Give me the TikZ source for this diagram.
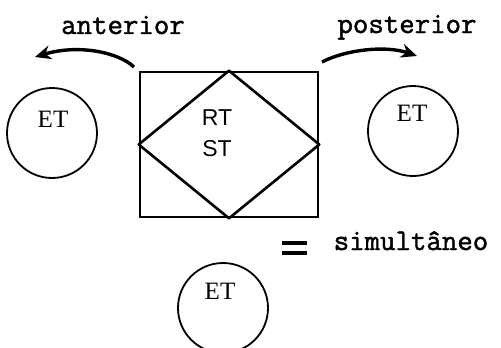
\documentclass[tikz,border=0pt]{standalone}
\usepackage{fontspec}
\setmainfont{Liberation Serif}
\newfontfamily\twfont[FakeBold=1.5]{Latin Modern Mono}
\newfontfamily\sansfont{Liberation Sans}
\usetikzlibrary{arrows.meta}
\begin{document}
\begin{tikzpicture}[x=1pt,y=-1pt,
  word/.style={font=\twfont\fontsize{30}{34}\selectfont, inner sep=0pt, anchor=base},
  ring/.style={circle, draw, line width=1.8pt, minimum size=90pt, inner sep=0pt},
  etlabel/.style={font=\fontsize{25}{28}\selectfont, inner sep=0pt, anchor=base},
  frame/.style={draw, line width=2.6pt, minimum width=178pt, minimum height=145pt, inner sep=0pt},
  inner/.style={font=\sansfont\fontsize{23}{31}\selectfont, inner sep=0pt, align=center},
  bendarrow/.style={line width=3.4pt, -{Stealth[length=16pt,width=14pt]}},
  eqbar/.style={line width=3.4pt},
]
\useasboundingbox (0,0) rectangle (501,348);
\fill[white] (0,0) rectangle (501,348);
% texts
\node[word] (ant) at (123,34) {anterior};
\node[word] (post) at (407,33) {posterior};
\node[word] (sim) at (411,250) {simultâneo};
% central box and diamond
\node[frame] (box) at (229,144.5) {};
\draw[line width=2.6pt, line join=round] (box.north) -- (box.east) -- (box.south) -- (box.west) -- cycle;
\node[inner] (rtst) at (217,133) {RT\\ST};
% circles
\node[ring] (cl) at (52,133) {};
\node[etlabel] (etl) at (53,127) {ET};
\node[ring] (cr) at (413,131) {};
\node[etlabel] (etr) at (412,121) {ET};
\node[ring] (cb) at (223,308) {};
\node[etlabel] (etb) at (220,299) {ET};
% arrows
\coordinate (la) at (134,67);
\coordinate (lb) at (35,57);
\coordinate (ra) at (322,62);
\coordinate (rb) at (417,56);
\draw[bendarrow] (la) .. controls (118,52) and (78,44) .. (lb);
\draw[bendarrow] (ra) .. controls (345,50) and (385,45) .. (rb);
% equals sign
\coordinate (e1) at (282,243);
\coordinate (e2) at (307,243);
\coordinate (e3) at (282,253);
\coordinate (e4) at (307,253);
\draw[eqbar] (e1) -- (e2);
\draw[eqbar] (e3) -- (e4);
\end{tikzpicture}
\end{document}
